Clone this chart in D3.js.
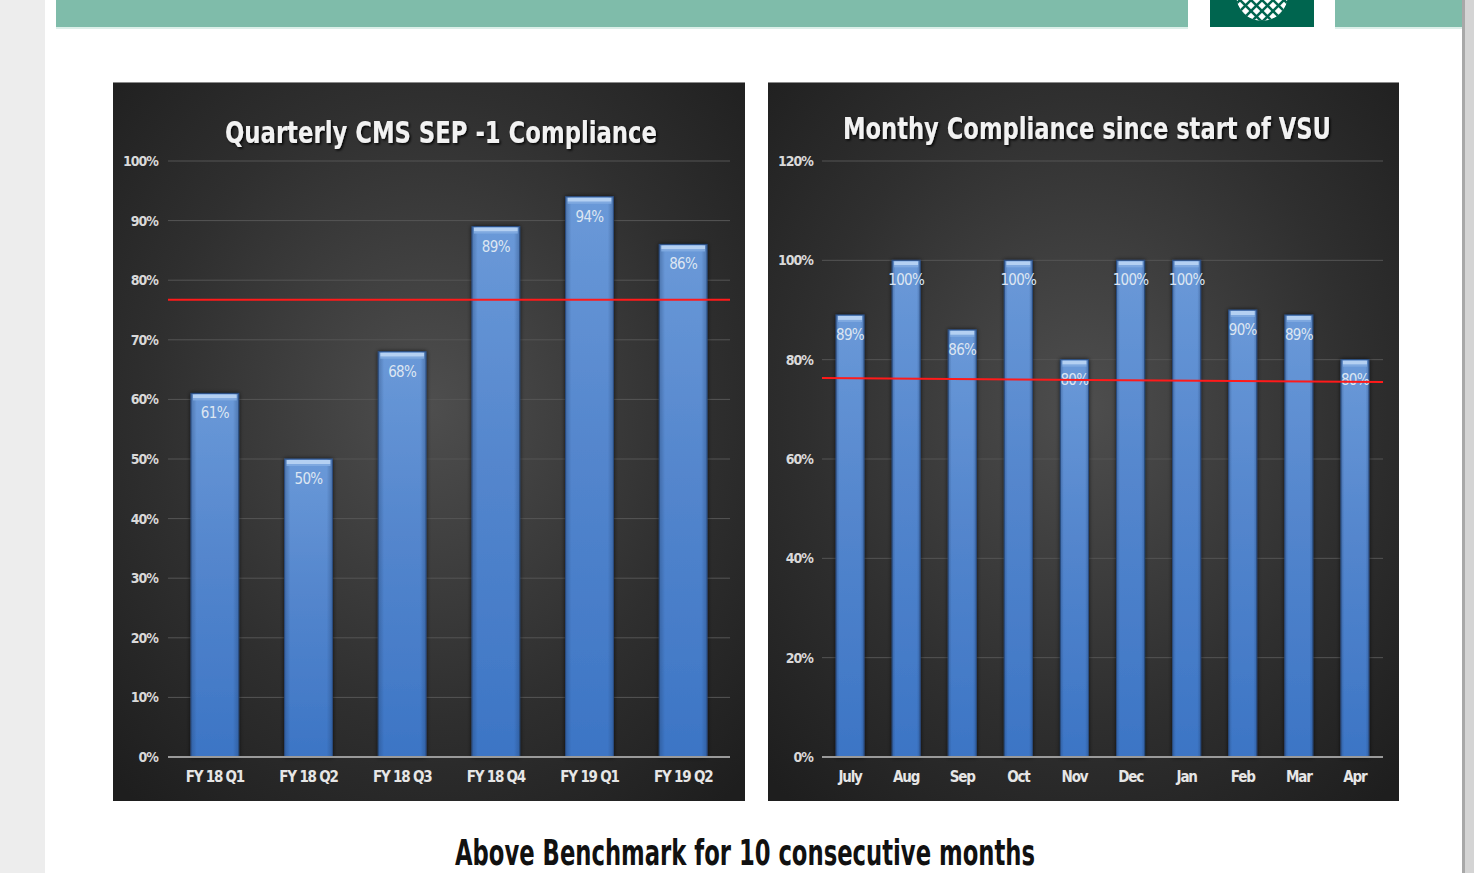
<!DOCTYPE html>
<html lang="en">
<head>
  <meta charset="UTF-8">
  <script src="https://d3js.org/d3.v7.min.js"></script>
  <title>Sepsis Compliance</title>
  <style>
    body { margin: 0; background: #fff; overflow: hidden; }
    svg { display: block; }
    .narrow { font-family: "Liberation Sans Narrow", "Arial Narrow", "DejaVu Sans Condensed", "Liberation Sans", sans-serif; }
  </style>
</head>
<body>
  <div id="chart"></div>
  <script>
    // Data
    const quarters = ["FY 18 Q1", "FY 18 Q2", "FY 18 Q3", "FY 18 Q4", "FY 19 Q1", "FY 19 Q2"];
    const quarterValues = [61, 50, 68, 89, 94, 86];
    const quarterTicks = [0, 10, 20, 30, 40, 50, 60, 70, 80, 90, 100];
    const quarterBenchmark = [76.7, 76.7]; // start, end

    const months = ["July", "Aug", "Sep", "Oct", "Nov", "Dec", "Jan", "Feb", "Mar", "Apr"];
    const monthValues = [89, 100, 86, 100, 80, 100, 100, 90, 89, 80];
    const monthTicks = [0, 20, 40, 60, 80, 100, 120];
    const monthBenchmark = [76.3, 75.5]; // start, end

    const width = 1474;
    const height = 873;

    const svg = d3.select("#chart")
      .append("svg")
      .attr("width", width)
      .attr("height", height);

    const defs = svg.append("defs");

    // panel background
    const bg = defs.append("radialGradient")
      .attr("id", "panel-bg")
      .attr("cx", "50%").attr("cy", "45%").attr("r", "72%");
    bg.append("stop").attr("offset", "0%").attr("stop-color", "#4e4e4e");
    bg.append("stop").attr("offset", "60%").attr("stop-color", "#2f2f2f");
    bg.append("stop").attr("offset", "100%").attr("stop-color", "#1e1e1e");

    // bar fill
    const barGrad = defs.append("linearGradient")
      .attr("id", "bar-fill")
      .attr("x1", "0").attr("y1", "0").attr("x2", "0").attr("y2", "1");
    barGrad.append("stop").attr("offset", "0%").attr("stop-color", "#6a99d8");
    barGrad.append("stop").attr("offset", "45%").attr("stop-color", "#5486cd");
    barGrad.append("stop").attr("offset", "100%").attr("stop-color", "#3c75c5");

    const barSide = defs.append("linearGradient")
      .attr("id", "bar-side")
      .attr("x1", "0").attr("y1", "0").attr("x2", "1").attr("y2", "0");
    barSide.append("stop").attr("offset", "0%").attr("stop-color", "#1d3a66").attr("stop-opacity", 0.35);
    barSide.append("stop").attr("offset", "12%").attr("stop-color", "#1d3a66").attr("stop-opacity", 0);
    barSide.append("stop").attr("offset", "88%").attr("stop-color", "#1d3a66").attr("stop-opacity", 0);
    barSide.append("stop").attr("offset", "100%").attr("stop-color", "#1d3a66").attr("stop-opacity", 0.35);

    const shadow = defs.append("filter").attr("id", "title-shadow")
      .attr("x", "-10%").attr("y", "-30%").attr("width", "120%").attr("height", "160%");
    shadow.append("feDropShadow")
      .attr("dx", 1.5).attr("dy", 1.5).attr("stdDeviation", 1.2)
      .attr("flood-color", "#000").attr("flood-opacity", 0.9);

    const glow = defs.append("filter").attr("id", "bar-glow")
      .attr("x", "-30%").attr("y", "-10%").attr("width", "160%").attr("height", "120%");
    glow.append("feDropShadow")
      .attr("dx", 0).attr("dy", 0).attr("stdDeviation", 2)
      .attr("flood-color", "#000").attr("flood-opacity", 0.7);

    // ---- slide frame ----
    svg.append("rect").attr("x", 0).attr("y", 0).attr("width", 45).attr("height", height).attr("fill", "#ededed");
    svg.append("rect").attr("x", 1462).attr("y", 0).attr("width", 12).attr("height", height).attr("fill", "#d4d4d4");
    svg.append("rect").attr("x", 1462).attr("y", 0).attr("width", 3).attr("height", height).attr("fill", "#a8a8a8");

    svg.append("rect").attr("x", 56).attr("y", 0).attr("width", 1132).attr("height", 27).attr("fill", "#7fbcaa");
    svg.append("rect").attr("x", 1335).attr("y", 0).attr("width", 127).attr("height", 27).attr("fill", "#7fbcaa");
    svg.append("rect").attr("x", 56).attr("y", 27).attr("width", 1132).attr("height", 2).attr("fill", "#dcefe9");
    svg.append("rect").attr("x", 1335).attr("y", 27).attr("width", 127).attr("height", 2).attr("fill", "#dcefe9");

    // logo box with lattice globe
    const logo = svg.append("g");
    defs.append("clipPath").attr("id", "logo-clip")
      .append("circle").attr("cx", 1262).attr("cy", -5).attr("r", 26);
    logo.append("rect").attr("x", 1210).attr("y", 0).attr("width", 104).attr("height", 27).attr("fill", "#00654f");
    const globe = logo.append("g").attr("clip-path", "url(#logo-clip)");
    globe.append("circle").attr("cx", 1262).attr("cy", -5).attr("r", 26).attr("fill", "#ffffff");
    d3.range(-66, 67, 11).forEach(o => {
      globe.append("line")
        .attr("x1", 1262 + o - 30).attr("y1", -30).attr("x2", 1262 + o + 30).attr("y2", 30)
        .attr("stroke", "#00654f").attr("stroke-width", 2.5);
      globe.append("line")
        .attr("x1", 1262 + o + 30).attr("y1", -30).attr("x2", 1262 + o - 30).attr("y2", 30)
        .attr("stroke", "#00654f").attr("stroke-width", 2.5);
    });

    // ---- chart panels ----
    function drawPanel(opt) {
      const g = svg.append("g");

      g.append("rect")
        .attr("x", opt.x).attr("y", opt.y)
        .attr("width", opt.w).attr("height", opt.h)
        .attr("fill", "url(#panel-bg)");
      g.append("line")
        .attr("x1", opt.x).attr("x2", opt.x + opt.w)
        .attr("y1", opt.y + 0.5).attr("y2", opt.y + 0.5)
        .attr("stroke", "#8a8a8a").attr("stroke-width", 1);

      const x = d3.scaleBand()
        .domain(opt.categories)
        .range([opt.plotLeft, opt.plotRight])
        .paddingInner(opt.padding)
        .paddingOuter(opt.padding / 2);

      const y = d3.scaleLinear()
        .domain([0, d3.max(opt.ticks)])
        .range([opt.plotBottom, opt.plotTop]);

      // title
      g.append("text")
        .attr("class", "narrow")
        .attr("x", opt.titleX).attr("y", opt.titleY)
        .attr("text-anchor", "middle")
        .attr("fill", "#f2f2f2")
        .attr("font-size", 30)
        .attr("font-weight", "bold")
        .attr("textLength", opt.titleLen)
        .attr("lengthAdjust", "spacingAndGlyphs")
        .attr("filter", "url(#title-shadow)")
        .text(opt.title);

      // gridlines
      g.append("g")
        .selectAll("line")
        .data(opt.ticks.filter(t => t > 0))
        .join("line")
        .attr("x1", opt.plotLeft).attr("x2", opt.plotRight)
        .attr("y1", d => y(d)).attr("y2", d => y(d))
        .attr("stroke", "#555555").attr("stroke-width", 1);

      // y axis labels
      const yAxis = g.append("g")
        .attr("transform", `translate(${opt.labelRight},0)`)
        .call(d3.axisLeft(y).tickValues(opt.ticks).tickSize(0).tickPadding(0).tickFormat(d => d + "%"));
      yAxis.select(".domain").remove();
      yAxis.selectAll("text")
        .attr("class", "narrow")
        .attr("fill", "#d9d9d9")
        .attr("font-size", 14)
        .attr("font-weight", "bold")
        .attr("letter-spacing", -1);

      // bars
      const bars = g.append("g")
        .selectAll("g")
        .data(opt.values)
        .join("g")
        .attr("transform", (d, i) => `translate(${x(opt.categories[i])},0)`);

      bars.append("rect")
        .attr("y", d => y(d))
        .attr("width", x.bandwidth())
        .attr("height", d => y(0) - y(d))
        .attr("fill", "url(#bar-fill)")
        .attr("stroke", "#2c4f85")
        .attr("stroke-width", 1)
        .attr("filter", "url(#bar-glow)");
      bars.append("rect")
        .attr("y", d => y(d))
        .attr("width", x.bandwidth())
        .attr("height", d => y(0) - y(d))
        .attr("fill", "url(#bar-side)");
      // bevelled top
      bars.append("rect")
        .attr("x", 2)
        .attr("y", d => y(d) + 1)
        .attr("width", x.bandwidth() - 4)
        .attr("height", 4)
        .attr("fill", "#b4d0f2");
      bars.append("rect")
        .attr("x", 2)
        .attr("y", d => y(d) + 5)
        .attr("width", x.bandwidth() - 4)
        .attr("height", 2)
        .attr("fill", "#7fa9e0");

      // data labels
      bars.append("text")
        .attr("class", "narrow")
        .attr("x", x.bandwidth() / 2)
        .attr("y", d => y(d) + 25)
        .attr("text-anchor", "middle")
        .attr("fill", "#dde6f2")
        .attr("font-size", 15)
        .attr("letter-spacing", -0.7)
        .text(d => d + "%");

      // baseline
      g.append("line")
        .attr("x1", opt.plotLeft).attr("x2", opt.plotRight)
        .attr("y1", y(0)).attr("y2", y(0))
        .attr("stroke", "#9a9a9a").attr("stroke-width", 2);

      // x labels
      const xAxis = g.append("g")
        .attr("transform", `translate(0,${y(0) + 14})`)
        .call(d3.axisBottom(x).tickSize(0).tickPadding(0));
      xAxis.select(".domain").remove();
      xAxis.selectAll("text")
        .attr("class", "narrow")
        .attr("fill", "#e6e6e6")
        .attr("font-size", 15)
        .attr("font-weight", "bold")
        .attr("letter-spacing", -1.2);

      // benchmark line
      g.append("line")
        .attr("x1", opt.plotLeft).attr("x2", opt.plotRight)
        .attr("y1", y(opt.benchmark[0])).attr("y2", y(opt.benchmark[1]))
        .attr("stroke", "#ff1a1a").attr("stroke-width", 2);
    }

    drawPanel({
      x: 113, y: 82, w: 632, h: 719,
      title: "Quarterly CMS SEP -1 Compliance",
      titleX: 441, titleY: 143, titleLen: 432,
      categories: quarters, values: quarterValues, ticks: quarterTicks,
      benchmark: quarterBenchmark,
      plotLeft: 168, plotRight: 730, plotTop: 161, plotBottom: 757,
      labelRight: 158, padding: 0.49
    });

    drawPanel({
      x: 768, y: 82, w: 631, h: 719,
      title: "Monthy Compliance since start of VSU",
      titleX: 1087, titleY: 139, titleLen: 488,
      categories: months, values: monthValues, ticks: monthTicks,
      benchmark: monthBenchmark,
      plotLeft: 822, plotRight: 1383, plotTop: 161, plotBottom: 757,
      labelRight: 813, padding: 0.5
    });

    // caption
    svg.append("text")
      .attr("class", "narrow")
      .attr("x", 745).attr("y", 865)
      .attr("text-anchor", "middle")
      .attr("fill", "#111")
      .attr("font-size", 35)
      .attr("font-weight", "bold")
      .attr("textLength", 580)
      .attr("lengthAdjust", "spacingAndGlyphs")
      .text("Above Benchmark for 10 consecutive months");
  </script>
</body>
</html>
